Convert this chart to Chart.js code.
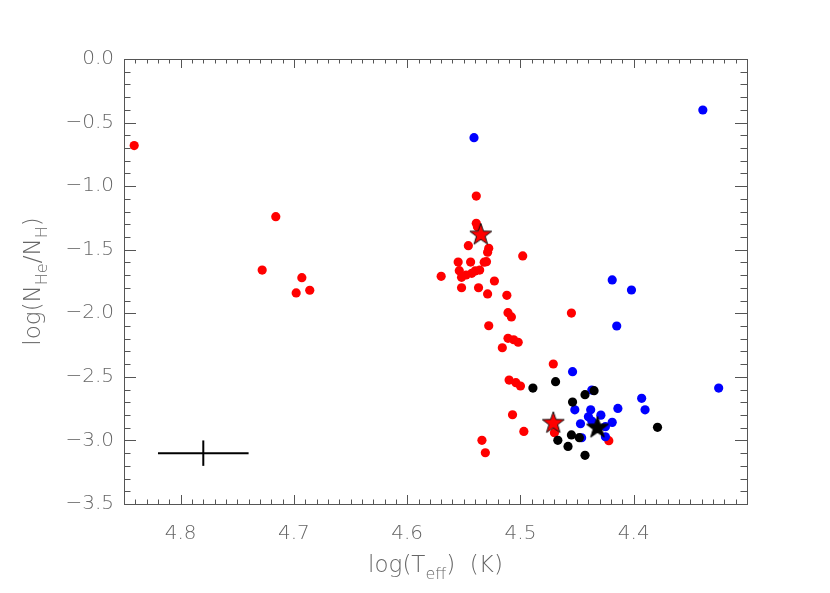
<!DOCTYPE html>
<html>
<head>
<meta charset="utf-8">
<script src="https://cdn.jsdelivr.net/npm/chart.js@4.4.0/dist/chart.umd.min.js"></script>
<style>
  body { margin: 0; background: #fff; }
</style>
</head>
<body>
<canvas id="myChart" width="830" height="593"></canvas>
<script>
// red sample
const redX = [4.841, 4.716, 4.728, 4.693, 4.698, 4.686, 4.539, 4.539, 4.538, 4.546,
              4.528, 4.529, 4.498, 4.555, 4.544, 4.530, 4.532, 4.570, 4.554, 4.552,
              4.548, 4.543, 4.540, 4.536, 4.523, 4.552, 4.537, 4.529, 4.512, 4.511,
              4.508, 4.455, 4.528, 4.511, 4.506, 4.502, 4.516, 4.471, 4.510, 4.504,
              4.500, 4.507, 4.497, 4.470, 4.534, 4.531, 4.422];
const redY = [-0.681, -1.240, -1.660, -1.720, -1.840, -1.819, -1.078, -1.292, -1.319, -1.468,
              -1.489, -1.520, -1.549, -1.597, -1.597, -1.594, -1.598, -1.709, -1.665, -1.717,
              -1.699, -1.686, -1.667, -1.660, -1.746, -1.799, -1.799, -1.848, -1.859, -1.995,
              -2.029, -1.998, -2.098, -2.197, -2.208, -2.228, -2.271, -2.399, -2.525, -2.546,
              -2.572, -2.798, -2.929, -2.939, -2.999, -3.097, -3.002];

// blue sample
const blueX = [4.541, 4.339, 4.419, 4.402, 4.415, 4.454, 4.325, 4.437, 4.452, 4.438,
               4.414, 4.393, 4.390, 4.429, 4.440, 4.447, 4.437, 4.419, 4.425, 4.425, 4.446];
const blueY = [-0.619, -0.401, -1.738, -1.817, -2.100, -2.459, -2.588, -2.604, -2.759, -2.759,
               -2.748, -2.669, -2.759, -2.801, -2.814, -2.869, -2.847, -2.858, -2.892, -2.971, -2.979];

// black sample
const blackX = [4.489, 4.469, 4.435, 4.443, 4.454, 4.379, 4.467, 4.455, 4.448, 4.458, 4.443];
const blackY = [-2.588, -2.538, -2.609, -2.640, -2.698, -2.897, -2.999, -2.957, -2.978, -3.047, -3.117];

// stars
const redStarX = [4.535, 4.471];
const redStarY = [-1.379, -2.860];
const blackStarX = [4.432];
const blackStarY = [-2.897];

// typical error bar
const errX = 4.78, errY = -3.1, errDX = 0.04, errDY = 0.1;

const xTicks = [4.8, 4.7, 4.6, 4.5, 4.4];
const yTicks = [0.0, -0.5, -1.0, -1.5, -2.0, -2.5, -3.0, -3.5];

const pts = (xs, ys) => xs.map((x, i) => ({ x: x, y: ys[i] }));

function starImage(fill, stroke) {
    const c = document.createElement('canvas');
    c.width = 26; c.height = 26;
    const g = c.getContext('2d');
    g.beginPath();
    for (let i = 0; i < 10; i++) {
        const r = i % 2 === 0 ? 11.5 : 4.6;
        const a = -Math.PI / 2 + i * Math.PI / 5;
        g.lineTo(13 + r * Math.cos(a), 13.5 + r * Math.sin(a));
    }
    g.closePath();
    g.fillStyle = fill;
    g.fill();
    g.lineWidth = 1;
    g.strokeStyle = stroke;
    g.stroke();
    return c;
}

const tickFont = { family: '"DejaVu Sans"', size: 20, weight: 200 };

// inward IDL-style ticks and the axis box
const boxPlugin = {
    id: 'box',
    afterDraw(chart) {
        const ctx = chart.ctx, a = chart.chartArea;
        const xs = chart.scales.x, ys = chart.scales.y;
        ctx.save();
        ctx.strokeStyle = '#555';
        ctx.lineWidth = 1;
        ctx.strokeRect(a.left + 0.5, a.top + 0.5, a.right - a.left, a.bottom - a.top);
        ctx.beginPath();
        for (let k = 430; k <= 485; k++) {
            const px = Math.round(xs.getPixelForValue(k / 100)) + 0.5;
            const len = k % 10 === 0 ? 9 : 4.5;
            ctx.moveTo(px, a.bottom); ctx.lineTo(px, a.bottom - len);
            ctx.moveTo(px, a.top); ctx.lineTo(px, a.top + len);
        }
        for (let k = -35; k <= 0; k++) {
            const py = Math.round(ys.getPixelForValue(k / 10)) + 0.5;
            const len = k % 5 === 0 ? 12 : 6.5;
            ctx.moveTo(a.left, py); ctx.lineTo(a.left + len, py);
            ctx.moveTo(a.right, py); ctx.lineTo(a.right - len, py);
        }
        ctx.stroke();

        // axis titles with subscripts
        ctx.fillStyle = '#666';
        ctx.textBaseline = 'alphabetic';
        const rich = (parts, cx, cy) => {
            let w = 0;
            parts.forEach(p => {
                ctx.font = (p[1] ? '200 16px' : '200 23px') + ' "DejaVu Sans"';
                p.w = ctx.measureText(p[0]).width;
                w += p.w;
            });
            let x = cx - w / 2;
            parts.forEach(p => {
                ctx.font = (p[1] ? '200 16px' : '200 23px') + ' "DejaVu Sans"';
                ctx.fillText(p[0], x, cy + (p[1] ? 7 : 0));
                x += p.w;
            });
        };
        rich([['log(T', 0], ['eff', 1], [')  (K)', 0]], (a.left + a.right) / 2, 572);
        ctx.translate(40, (a.top + a.bottom) / 2);
        ctx.rotate(-Math.PI / 2);
        rich([['log(N', 0], ['He', 1], ['/N', 0], ['H', 1], [')', 0]], 0, 0);
        ctx.restore();
    }
};

const config = {
    type: 'scatter',
    data: {
        datasets: [
            {
                data: pts(blackStarX, blackStarY),
                pointStyle: starImage('#000', '#000'),
            },
            {
                data: pts(redStarX, redStarY),
                pointStyle: starImage('#ff0000', '#111'),
            },
            {
                data: [{ x: errX - errDX, y: errY }, { x: errX + errDX, y: errY }],
                showLine: true, borderColor: '#000', borderWidth: 2, pointRadius: 0,
            },
            {
                data: [{ x: errX, y: errY - errDY }, { x: errX, y: errY + errDY }],
                showLine: true, borderColor: '#000', borderWidth: 2, pointRadius: 0,
            },
            {
                data: pts(blackX, blackY),
                backgroundColor: '#000', borderWidth: 0, pointRadius: 4.6,
            },
            {
                data: pts(blueX, blueY),
                backgroundColor: '#0000ff', borderWidth: 0, pointRadius: 4.6,
            },
            {
                data: pts(redX, redY),
                backgroundColor: '#ff0000', borderWidth: 0, pointRadius: 4.6,
            }
        ]
    },
    options: {
        responsive: false,
        animation: false,
        layout: { padding: { left: 0, right: 83, top: 59, bottom: 0 } },
        plugins: {
            legend: { display: false },
            tooltip: { enabled: false }
        },
        scales: {
            x: {
                type: 'linear',
                reverse: true,
                min: 4.30,
                max: 4.85,
                afterBuildTicks: s => { s.ticks = xTicks.map(v => ({ value: v })); },
                afterFit: s => { s.height = 89; },
                grid: { display: false, drawTicks: false },
                border: { display: false },
                ticks: { font: tickFont, color: '#666', padding: 18, callback: v => v.toFixed(1) }
            },
            y: {
                type: 'linear',
                min: -3.5,
                max: 0,
                afterBuildTicks: s => { s.ticks = yTicks.map(v => ({ value: v })); },
                afterFit: s => { s.width = 124; },
                grid: { display: false, drawTicks: false },
                border: { display: false },
                ticks: { font: tickFont, color: '#666', padding: 10,
                         callback: v => v.toFixed(1).replace('-', '\u2212') }
            }
        }
    },
    plugins: [boxPlugin]
};

const myChart = new Chart(document.getElementById('myChart'), config);
</script>
</body>
</html>
